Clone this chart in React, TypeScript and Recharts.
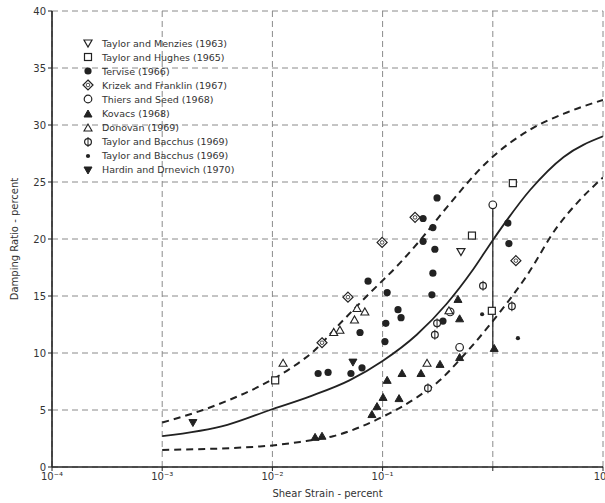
import React from 'react';
import { ComposedChart, Line, Scatter, XAxis, YAxis, CartesianGrid, Legend } from 'recharts';

// ---- axes ----
const xTicks = [1e-4, 1e-3, 1e-2, 1e-1, 1, 10];
const xTickLabels = ['10⁻⁴', '10⁻³', '10⁻²', '10⁻¹', '', '10'];
const yTicks = [0, 5, 10, 15, 20, 25, 30, 35, 40];

// ---- curves: [shear strain %, damping %] ----
const upperBound: [number, number][] = [
  [0.001, 3.9], [0.00234, 5.0], [0.0041, 5.9], [0.0077, 7.1], [0.0154, 8.8], [0.0233, 10.1],
  [0.0385, 12.3], [0.072, 15.0], [0.144, 17.9], [0.233, 20.2], [0.384, 22.8], [0.944, 27.0],
  [2.18, 29.6], [4.71, 31.1], [10, 32.2],
];
const average: [number, number][] = [
  [0.001, 2.7], [0.0039, 3.7], [0.0095, 5.0], [0.022, 6.2], [0.05, 7.6], [0.1, 9.3],
  [0.204, 11.6], [0.38, 14.3], [0.66, 17.3], [1, 19.9], [2.18, 24.3], [4.4, 27.2], [10, 29.0],
];
const lowerBound: [number, number][] = [
  [0.001, 1.5], [0.0077, 1.8], [0.0178, 2.2], [0.0355, 2.7], [0.1, 4.4], [0.204, 6.1],
  [0.33, 7.6], [0.5, 9.4], [1, 12.8], [2.04, 16.8], [3.8, 21.0], [6, 23.3], [10, 25.4],
];
const rangeBar: [number, number][] = [[1, 23.0], [1, 10.4]];

// ---- data sets ----
const taylorMenzies: [number, number][] = [[0.514, 18.9]];
const taylorHughes: [number, number][] = [[0.0106, 7.6], [0.647, 20.3], [1.52, 24.9], [0.98, 13.7]];
const tervise: [number, number][] = [
  [0.312, 23.6], [0.233, 21.8], [0.286, 21.0], [0.233, 19.8], [0.298, 19.1], [0.286, 17.0],
  [0.0738, 16.3], [0.11, 15.3], [0.28, 15.1], [0.138, 13.8], [0.147, 13.1], [0.107, 12.6],
  [0.0624, 11.8], [0.105, 11.0], [0.065, 8.7], [0.026, 8.2], [0.032, 8.3], [0.0516, 8.2],
  [1.37, 21.4], [1.4, 19.6], [0.353, 12.8],
];
const krizekFranklin: [number, number][] = [[0.197, 21.9], [0.099, 19.7], [0.0485, 14.9], [0.0282, 10.9], [1.62, 18.1]];
const thiersSeed: [number, number][] = [[1.0, 23.0], [0.41, 13.6], [0.5, 10.5]];
const kovacs: [number, number][] = [
  [0.11, 7.6], [0.15, 8.2], [0.223, 8.2], [0.332, 9.0], [0.141, 6.0], [0.101, 6.1],
  [0.089, 5.3], [0.08, 4.6], [0.0244, 2.6], [0.0282, 2.7], [0.483, 14.7], [0.5, 13.0],
  [0.5, 9.6], [1.03, 10.4],
];
const donovan: [number, number][] = [
  [0.0125, 9.1], [0.0586, 13.9], [0.069, 13.6], [0.0556, 12.9], [0.041, 12.0], [0.036, 11.8],
  [0.253, 9.1], [0.4, 13.7],
];
const taylorBacchusA: [number, number][] = [[0.815, 15.9], [1.49, 14.1], [0.298, 11.6], [0.258, 6.9], [0.312, 12.6]];
const taylorBacchusB: [number, number][] = [[0.8, 13.4], [1.69, 11.3]];
const hardinDrnevich: [number, number][] = [[0.0019, 3.9], [0.0538, 9.2]];

const legendLabels = [
  'Taylor and Menzies (1963)',
  'Taylor and Hughes (1965)',
  'Tervise (1966)',
  'Krizek and Franklin (1967)',
  'Thiers and Seed (1968)',
  'Kovacs (1968)',
  'Donovan (1969)',
  'Taylor and Bacchus (1969)',
  'Taylor and Bacchus (1969)',
  'Hardin and Drnevich (1970)',
];
const legendKinds = [
  'triDownOpen', 'squareOpen', 'circleFilled', 'diamondOpen', 'circleOpen',
  'triFilled', 'triOpen', 'cOpen', 'dot', 'triDownFilled',
];

const INK = '#222';
const toPts = (arr: [number, number][]) => arr.map(([x, y]) => ({ x, y }));

function Glyph({ kind, cx, cy }: { kind: string; cx: number; cy: number }) {
  if (cx == null || cy == null) return null;
  switch (kind) {
    case 'triDownOpen':
      return <polygon points={`${cx - 4},${cy - 3} ${cx + 4},${cy - 3} ${cx},${cy + 4}`} fill="#fff" stroke={INK} strokeWidth={1.2} />;
    case 'triDownFilled':
      return <polygon points={`${cx - 4},${cy - 3} ${cx + 4},${cy - 3} ${cx},${cy + 4}`} fill={INK} stroke={INK} strokeWidth={1} />;
    case 'squareOpen':
      return <rect x={cx - 3.5} y={cy - 3.5} width={7} height={7} fill="#fff" stroke={INK} strokeWidth={1.2} />;
    case 'circleFilled':
      return <circle cx={cx} cy={cy} r={3.6} fill={INK} />;
    case 'diamondOpen':
      return (
        <g>
          <polygon points={`${cx},${cy - 5} ${cx + 5},${cy} ${cx},${cy + 5} ${cx - 5},${cy}`} fill="#fff" stroke={INK} strokeWidth={1.2} />
          <circle cx={cx} cy={cy} r={1.8} fill="#fff" stroke={INK} strokeWidth={0.8} />
        </g>
      );
    case 'circleOpen':
      return <circle cx={cx} cy={cy} r={3.8} fill="#fff" stroke={INK} strokeWidth={1.2} />;
    case 'triFilled':
      return <polygon points={`${cx - 4},${cy + 3} ${cx + 4},${cy + 3} ${cx},${cy - 4}`} fill={INK} stroke={INK} strokeWidth={1} />;
    case 'triOpen':
      return <polygon points={`${cx - 4},${cy + 3} ${cx + 4},${cy + 3} ${cx},${cy - 4}`} fill="#fff" stroke={INK} strokeWidth={1.1} />;
    case 'cOpen':
      return (
        <g>
          <circle cx={cx} cy={cy} r={3.4} fill="#fff" stroke={INK} strokeWidth={1.2} />
          <line x1={cx} y1={cy - 5} x2={cx} y2={cy + 5} stroke={INK} strokeWidth={1} />
        </g>
      );
    case 'dot':
      return <circle cx={cx} cy={cy} r={2.1} fill={INK} />;
    default:
      return null;
  }
}

const shapeOf = (kind: string) => (props: any) => <Glyph kind={kind} cx={props.cx} cy={props.cy} />;

const renderLegend = () => (
  <div style={{ fontFamily: '"DejaVu Sans", sans-serif', fontSize: 9.5, color: '#333' }}>
    {legendLabels.map((label, i) => (
      <div key={i} style={{ height: 14.1, display: 'flex', alignItems: 'center', whiteSpace: 'nowrap' }}>
        <svg width={16} height={14} style={{ flex: 'none' }}>
          <Glyph kind={legendKinds[i]} cx={8} cy={7} />
        </svg>
        <span style={{ marginLeft: 6 }}>{label}</span>
      </div>
    ))}
  </div>
);

const series: { data: [number, number][]; kind: string }[] = [
  { data: taylorMenzies, kind: 'triDownOpen' },
  { data: taylorHughes, kind: 'squareOpen' },
  { data: tervise, kind: 'circleFilled' },
  { data: krizekFranklin, kind: 'diamondOpen' },
  { data: thiersSeed, kind: 'circleOpen' },
  { data: kovacs, kind: 'triFilled' },
  { data: donovan, kind: 'triOpen' },
  { data: taylorBacchusA, kind: 'cOpen' },
  { data: taylorBacchusB, kind: 'dot' },
  { data: hardinDrnevich, kind: 'triDownFilled' },
];

const tickStyle = { fontSize: 10, fill: '#333', fontFamily: '"DejaVu Sans", sans-serif' };

export default function App() {
  return (
    <div style={{ position: 'absolute', left: 0, top: 0, width: 605, height: 503, background: '#fff' }}>
      <ComposedChart width={605} height={503} margin={{ top: 11, right: 2, left: 0, bottom: 0 }}>
        <CartesianGrid strokeDasharray="6 4" stroke="#8a8a8a" strokeWidth={1} />
        <XAxis
          type="number"
          dataKey="x"
          scale="log"
          domain={[1e-4, 10]}
          ticks={xTicks}
          allowDataOverflow
          height={36}
          tick={tickStyle}
          tickSize={4}
          tickFormatter={(v: number) => xTickLabels[xTicks.findIndex((t) => Math.abs(Math.log10(t) - Math.log10(v)) < 1e-6)] ?? ''}
          axisLine={{ stroke: INK, strokeWidth: 1.6 }}
          tickLine={{ stroke: INK }}
          label={{ value: 'Shear Strain - percent', position: 'insideBottom', offset: 6, style: { ...tickStyle, fontSize: 10 } }}
        />
        <YAxis
          type="number"
          dataKey="y"
          domain={[0, 40]}
          ticks={yTicks}
          width={52}
          tick={tickStyle}
          tickSize={4}
          axisLine={{ stroke: INK, strokeWidth: 1.6 }}
          tickLine={{ stroke: INK }}
          label={{ value: 'Damping Ratio - percent', angle: -90, position: 'insideLeft', offset: 14, style: { ...tickStyle, textAnchor: 'middle' } }}
        />
        <Legend
          content={renderLegend}
          layout="vertical"
          align="center"
          verticalAlign="middle"
          wrapperStyle={{ position: 'absolute', left: 80, top: 36, width: 200 }}
        />
        <Line data={toPts(upperBound)} dataKey="y" type="monotone" stroke={INK} strokeWidth={2} strokeDasharray="7 5" dot={false} isAnimationActive={false} legendType="none" />
        <Line data={toPts(average)} dataKey="y" type="monotone" stroke={INK} strokeWidth={1.8} dot={false} isAnimationActive={false} legendType="none" />
        <Line data={toPts(lowerBound)} dataKey="y" type="monotone" stroke={INK} strokeWidth={2} strokeDasharray="7 5" dot={false} isAnimationActive={false} legendType="none" />
        <Line data={toPts(rangeBar)} dataKey="y" type="linear" stroke={INK} strokeWidth={1.2} dot={false} isAnimationActive={false} legendType="none" />
        {series.map((s, i) => (
          <Scatter key={i} data={toPts(s.data)} dataKey="y" shape={shapeOf(s.kind)} isAnimationActive={false} />
        ))}
      </ComposedChart>
    </div>
  );
}
